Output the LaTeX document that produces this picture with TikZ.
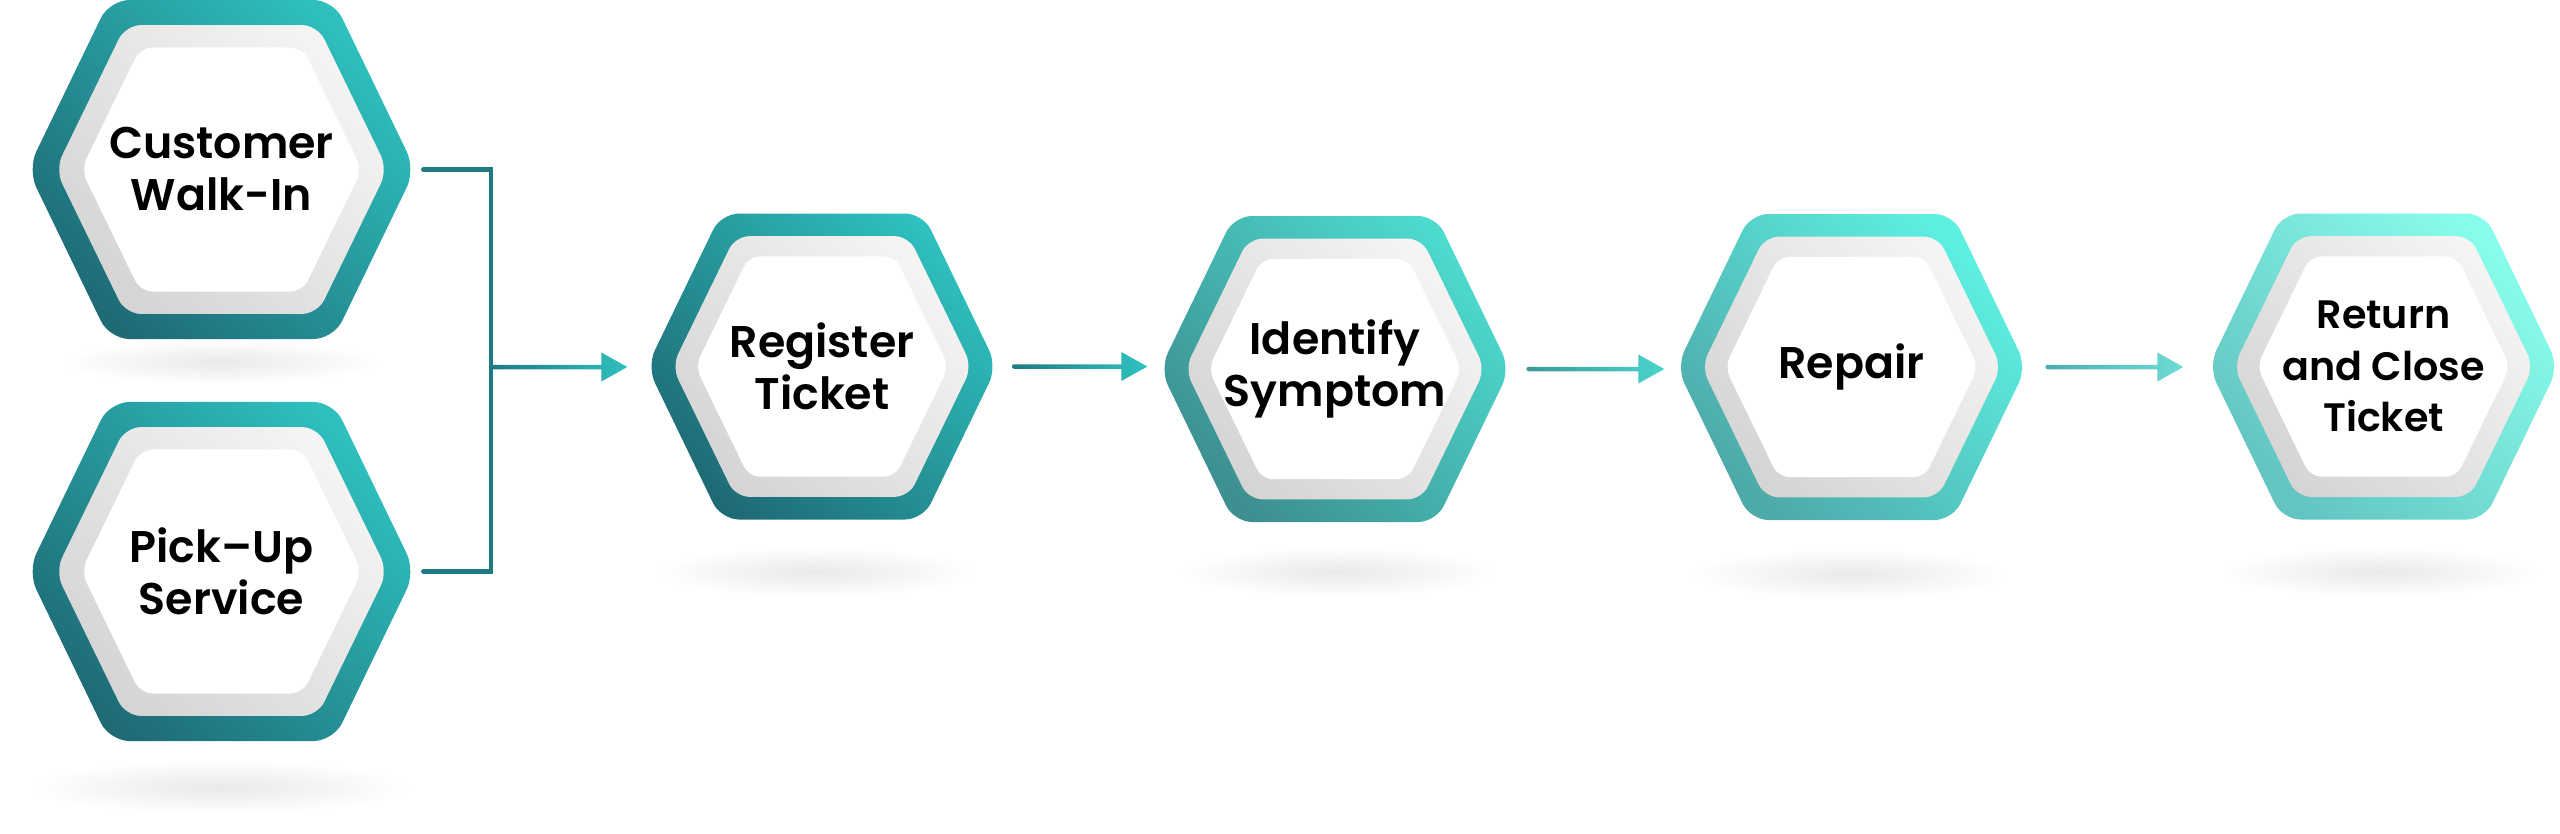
\documentclass[tikz,border=0pt]{standalone}
\usepackage{fontspec}
\newfontfamily\hexfont{Poppins SemiBold}
\usetikzlibrary{calc}

\definecolor{tealAdark}{HTML}{1E6B76}
\definecolor{tealAlight}{HTML}{2EBFBE}
\definecolor{identdark}{HTML}{3D8F90}
\definecolor{identlight}{HTML}{4DDACF}
\definecolor{repairdark}{HTML}{4EA9A9}
\definecolor{repairlight}{HTML}{5DF0E2}
\definecolor{returndark}{HTML}{63C4C1}
\definecolor{returnlight}{HTML}{88FDEB}
\definecolor{graydark}{HTML}{D5D5D5}
\definecolor{graylight}{HTML}{F5F4F2}
\definecolor{shadowc}{HTML}{E9E9E9}
\definecolor{bracketc}{HTML}{1D7A80}
\definecolor{aOneD}{HTML}{1D7980}
\definecolor{aOneL}{HTML}{2FC0BE}
\definecolor{aTwoD}{HTML}{1E7C82}
\definecolor{aTwoL}{HTML}{30C3C0}
\definecolor{aThreeD}{HTML}{3B9898}
\definecolor{aThreeL}{HTML}{4AD5CC}
\definecolor{aFourD}{HTML}{4BAFAC}
\definecolor{aFourL}{HTML}{6EDCD5}

\tikzset{
  hexlabel/.style={inner sep=0pt, align=center, text=black,
    font={\hexfont\fontsize{13.3pt}{15.6pt}\selectfont}},
  smalllabel/.style={font={\hexfont\fontsize{11.9pt}{15.4pt}\selectfont}},
  bracketline/.style={draw=bracketc, line width=1.35pt, line cap=round, line join=miter},
  shadowblob/.style={inner color=shadowc, outer color=white},
}

% one filled hexagon layer: options, cx, cy, half-width, half-height, half-top, corner radius
\newcommand{\hexfill}[7]{%
  \path[#1, rounded corners=#7] (#2-#4,#3) -- (#2-#6,#3-#5) -- (#2+#6,#3-#5)
    -- (#2+#4,#3) -- (#2+#6,#3+#5) -- (#2-#6,#3+#5) -- cycle;}

% name, cx, cy, scale, dark, light, text, extra label style
\newcommand{\hexagonbox}[8]{%
  \pgfmathsetmacro\hA{175*#4}%
  \pgfmathsetmacro\hB{153*#4}%
  \pgfmathsetmacro\hC{101*#4}%
  \pgfmathsetmacro\hR{5.4*#4}%
  \pgfmathsetmacro\gA{0.857*\hA}%
  \pgfmathsetmacro\gB{0.852*\hB}%
  \pgfmathsetmacro\gC{0.857*\hC}%
  \pgfmathsetmacro\gR{4.2*#4}%
  \pgfmathsetmacro\wA{0.724*\hA}%
  \pgfmathsetmacro\wB{0.72*\hB}%
  \pgfmathsetmacro\wC{0.724*\hC}%
  \pgfmathsetmacro\wR{3.3*#4}%
  \pgfmathsetmacro\nW{(2*\hA-5*#4)*0.3}%
  \pgfmathsetmacro\nH{2*\hB*0.3}%
  \hexfill{bottom color=#5, top color=#6, shading angle=-45}{#2}{#3}{\hA}{\hB}{\hC}{\hR pt}%
  \hexfill{bottom color=graydark, top color=graylight, shading angle=-45}{#2}{#3}{\gA}{\gB}{\gC}{\gR pt}%
  \hexfill{fill=white}{#2}{#3}{\wA}{\wB}{\wC}{\wR pt}%
  \node[hexlabel, minimum width=\nW pt, minimum height=\nH pt, #8] (#1) at (#2,#3) {#7};%
}

% gradient arrow: from, to, dark, light
\newcommand{\gradarrow}[4]{%
  \shade[left color=#3, right color=#4] let \p1=(#1), \p2=(#2) in
    (\x1,\y1+0.675pt) arc[start angle=90, end angle=270, radius=0.675pt]
    -- (\x2-7.8pt,\y1-0.675pt) -- (\x2-7.8pt,\y1-4.35pt) -- (\x2,\y1)
    -- (\x2-7.8pt,\y1+4.35pt) -- (\x2-7.8pt,\y1+0.675pt) -- cycle;}

\begin{document}
\begin{tikzpicture}[x=0.3pt, y=-0.3pt]
  \fill[white] (0,0) rectangle (2560,833);
  \useasboundingbox (0,0) rectangle (2560,833);

  % shadows
  \shade[shadowblob] (220,362) ellipse [x radius=48pt, y radius=6.5pt];
  \shade[shadowblob] (220,787) ellipse [x radius=58pt, y radius=8pt];
  \shade[shadowblob] (815,572) ellipse [x radius=48pt, y radius=7.5pt];
  \shade[shadowblob] (1338,572) ellipse [x radius=48pt, y radius=7.5pt];
  \shade[shadowblob] (1850,574) ellipse [x radius=48pt, y radius=7.5pt];
  \shade[shadowblob] (2380,572) ellipse [x radius=48pt, y radius=7.5pt];

  % hexagons
  \hexagonbox{cust}{221.5}{169.5}{1.108}{tealAdark}{tealAlight}{Customer\\Walk-In}{}
  \hexagonbox{pick}{221.5}{571.5}{1.108}{tealAdark}{tealAlight}{Pick–Up\\Service}{}
  \hexagonbox{reg}{822}{366.5}{1}{tealAdark}{tealAlight}{Register\\Ticket}{}
  \hexagonbox{ident}{1335}{369}{1}{identdark}{identlight}{Identify\\Symptom}{}
  \hexagonbox{rep}{1851.5}{367}{1}{repairdark}{repairlight}{Repair}{}
  \hexagonbox{ret}{2383.5}{366.5}{1}{returndark}{returnlight}{Return\\and Close\\Ticket}{smalllabel}

  % bracket joining the two entry points
  \coordinate (junc) at (491,367);
  \draw[bracketline] ([xshift=3pt]cust.east) -| (junc) |- ([xshift=3pt]pick.east);

  % arrows
  \gradarrow{junc}{[xshift=-6.45pt]reg.west}{aOneD}{aOneL}
  \gradarrow{[xshift=5.7pt]reg.east}{[xshift=-4.35pt]ident.west}{aTwoD}{aTwoL}
  \gradarrow{[xshift=6.15pt]ident.east}{[xshift=-4.2pt]rep.west}{aThreeD}{aThreeL}
  \gradarrow{[xshift=6.9pt]rep.east}{[xshift=-8.1pt]ret.west}{aFourD}{aFourL}
\end{tikzpicture}
\end{document}
